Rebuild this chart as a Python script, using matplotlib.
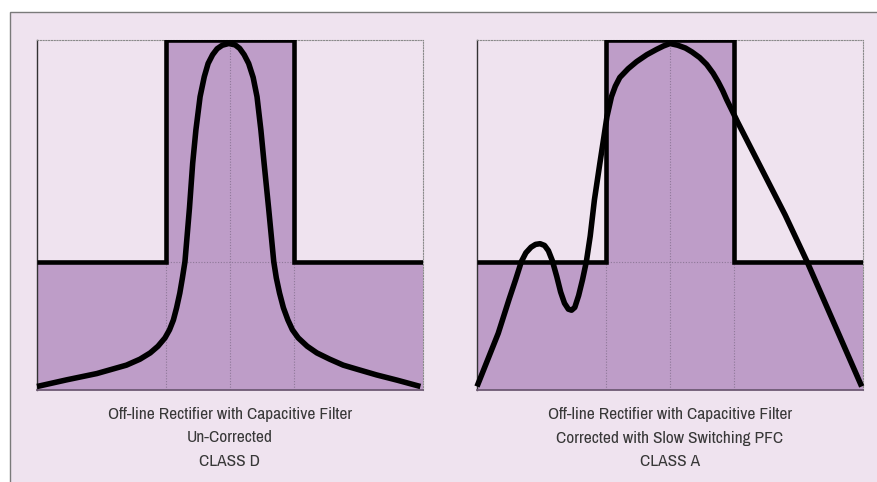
import matplotlib
matplotlib.use("Agg")
import matplotlib.pyplot as plt
from matplotlib.patches import Rectangle

# ---- data ----
step_edges = [0, 2, 4, 6]
step_levels = [0.365, 1.0, 0.365]
grid_x = [2, 3, 4]

classd_x = [0.0, 0.46, 0.93, 1.39, 1.60, 1.76, 1.88, 1.99, 2.06, 2.12, 2.17, 2.22, 2.26,
            2.30, 2.37, 2.42, 2.47, 2.535, 2.60, 2.66, 2.73, 2.80, 2.88, 2.98, 3.08,
            3.15, 3.22, 3.29, 3.36, 3.42, 3.48, 3.53, 3.60, 3.68, 3.72, 3.77, 3.83,
            3.90, 3.97, 4.06, 4.20, 4.35, 4.55, 4.76, 5.00, 5.28, 5.60, 5.96]
classd_y = [0.01, 0.029, 0.047, 0.071, 0.088, 0.106, 0.125, 0.149, 0.172, 0.20, 0.235, 0.277, 0.32,
            0.367, 0.52, 0.648, 0.743, 0.838, 0.895, 0.933, 0.958, 0.975, 0.985, 0.99, 0.986,
            0.976, 0.958, 0.933, 0.893, 0.838, 0.743, 0.648, 0.52, 0.367, 0.32, 0.277, 0.235,
            0.20, 0.172, 0.149, 0.125, 0.106, 0.088, 0.071, 0.058, 0.043, 0.028, 0.01]

classa_x = [0.0, 0.33, 0.50, 0.60, 0.69, 0.76, 0.84, 0.91, 0.98, 1.05, 1.11, 1.17,
            1.24, 1.30, 1.36, 1.42, 1.47, 1.52, 1.58, 1.64, 1.70, 1.76, 1.825, 1.91,
            1.97, 2.02, 2.09, 2.15, 2.22, 2.35, 2.48, 2.64, 2.79, 2.90, 3.0, 3.12,
            3.24, 3.34, 3.46, 3.57, 3.67, 3.75, 3.82, 3.88, 3.96, 4.05, 4.79, 5.13, 5.98]
classa_y = [0.01, 0.162, 0.26, 0.315, 0.367, 0.392, 0.408, 0.416, 0.418, 0.413, 0.398, 0.37,
            0.324, 0.28, 0.248, 0.231, 0.228, 0.236, 0.27, 0.315, 0.367, 0.44, 0.543, 0.648,
            0.72, 0.781, 0.838, 0.868, 0.893, 0.918, 0.938, 0.958, 0.973, 0.983, 0.99, 0.985,
            0.977, 0.966, 0.95, 0.93, 0.905, 0.88, 0.855, 0.83, 0.80, 0.766, 0.50, 0.367, 0.01]

captions_left = ["Off-line Rectifier with Capacitive Filter", "Un-Corrected", "CLASS D"]
captions_right = ["Off-line Rectifier with Capacitive Filter", "Corrected with Slow Switching PFC", "CLASS A"]

# ---- style ----
BG = "#EFE3EF"
FILL = "#BE9DC8"
GRID = "#8E7898"
W, H = 878, 482

fig = plt.figure(figsize=(W / 100, H / 100), dpi=100, facecolor="white")
# outer panel frame
frame = Rectangle((10 / W, -0.05), 1.1, 1 - 12 / H + 0.05, transform=fig.transFigure,
                  facecolor=BG, edgecolor="#7a7a7a", linewidth=1.0, zorder=-10)
fig.patches.append(frame)

def panel(left_px, xs, ys, captions):
    ax = fig.add_axes([left_px / W, 1 - 390 / H, 386 / W, 350 / H], zorder=1)
    ax.set_facecolor(BG)
    ax.set_xlim(step_edges[0], step_edges[-1])
    ax.set_ylim(0, 1)
    ax.stairs(step_levels, step_edges, baseline=0, fill=True, color=FILL, zorder=1)
    for gx in grid_x:
        ax.axvline(gx, color=GRID, lw=0.8, ls=(0, (1, 1.5)), zorder=2)
    ax.axhline(step_levels[0], color=GRID, lw=0.8, ls=(0, (1, 1.5)), zorder=2)
    ax.stairs(step_levels, step_edges, baseline=None, color="black", lw=3.3, zorder=3)
    ax.plot(xs, ys, color="black", lw=4.0, solid_joinstyle="round", solid_capstyle="butt",
            zorder=4, clip_on=False)
    for s in ("top", "right"):
        ax.spines[s].set_linestyle((0, (1, 1.5)))
        ax.spines[s].set_color("#8a8a8a")
        ax.spines[s].set_linewidth(0.8)
    ax.spines["left"].set_color("#333333")
    ax.spines["left"].set_linewidth(1.0)
    ax.spines["bottom"].set_color("#6e5a74")
    ax.spines["bottom"].set_linewidth(1.3)
    ax.set_xticks([])
    ax.set_yticks([])
    cx = (left_px + 193) / W
    for i, t in enumerate(captions):
        fig.text(cx, 1 - (415 + 23 * i) / H, t, ha="center", va="center",
                 fontsize=12.5, color="#383838",
                 family=["Archivo Narrow", "DejaVu Sans"])
    return ax

panel(37, classd_x, classd_y, captions_left)
panel(477, classa_x, classa_y, captions_right)

fig.savefig("out.png", dpi=100, facecolor="white")
